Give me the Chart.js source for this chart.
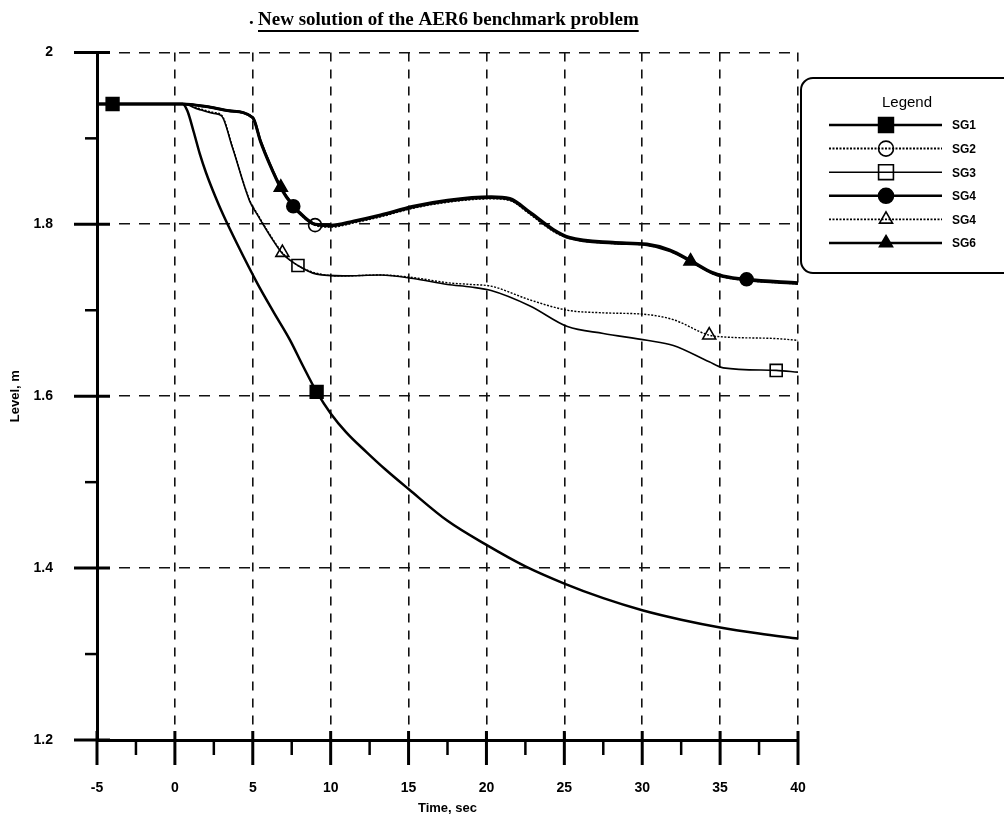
<!DOCTYPE html>
<html>
<head>
<meta charset="utf-8">
<title>New solution of the AER6 benchmark problem</title>
<script src="https://cdn.jsdelivr.net/npm/chart.js@4.4.1/dist/chart.umd.min.js"></script>
<style>
  html, body { margin: 0; padding: 0; background: #fff; }
  #wrap { width: 1004px; height: 824px; }
</style>
</head>
<body>
<div id="wrap"><canvas id="myChart" width="1004" height="824"></canvas></div>
<script>
// series names as printed in the legend (the fifth one really says SG4)
const seriesNames = ["SG1", "SG2", "SG3", "SG4", "SG4", "SG6"];

// SG1 - fastest drop
const timeSg1 = [-5, 0.5, 0.8, 1.2, 1.6, 2.0, 2.6, 3.1, 4.0, 5.3, 6.3, 7.4, 8.2, 9.1, 10.0, 11.0, 12.3, 13.5,
  15, 17.5, 20, 22.5, 25, 27.5, 30, 32.5, 35, 37.5, 40];
const sg1 = [1.94, 1.94, 1.932, 1.908, 1.882, 1.860, 1.832, 1.811, 1.777, 1.731, 1.699, 1.665, 1.636, 1.605, 1.580, 1.558, 1.535, 1.515,
  1.492, 1.455, 1.427, 1.402, 1.382, 1.365, 1.351, 1.340, 1.331, 1.324, 1.318];

// SG2, SG4, SG6 - upper group
const timeUpper = [-5, 0.5, 2, 3.5, 5, 5.5, 6.1, 6.8, 7.6, 8.3, 9, 10, 11.5, 13.2, 15.3, 17.5,
  20.3, 21.5, 22.8, 24.3, 25.3, 28.1, 30.3, 31.8, 33.1, 34.5, 35.2, 36.7, 40];
const sg2 = [1.94, 1.94, 1.937, 1.932, 1.924, 1.897, 1.870, 1.843, 1.821, 1.808, 1.799, 1.797, 1.802, 1.809, 1.819, 1.826,
  1.830, 1.828, 1.812, 1.792, 1.784, 1.778, 1.776, 1.769, 1.757, 1.743, 1.739, 1.735, 1.731];
const sg4 = [1.94, 1.94, 1.937, 1.932, 1.924, 1.896, 1.869, 1.842, 1.821, 1.808, 1.800, 1.799, 1.804, 1.811, 1.821, 1.828,
  1.832, 1.830, 1.814, 1.794, 1.785, 1.779, 1.777, 1.770, 1.758, 1.744, 1.740, 1.736, 1.732];
const sg6 = [1.94, 1.94, 1.937, 1.932, 1.924, 1.897, 1.870, 1.843, 1.822, 1.809, 1.800, 1.798, 1.803, 1.810, 1.820, 1.827,
  1.831, 1.829, 1.813, 1.793, 1.784, 1.778, 1.776, 1.769, 1.757, 1.743, 1.739, 1.735, 1.731];

// SG3 and the second "SG4" (open triangles) - middle group
const timeLower = [-5, 0.5, 1.5, 2.5, 3.0, 3.7, 4.8, 5.3, 6.1, 6.9, 7.9, 9.1, 10.8, 13.2, 15.3, 17.5,
  19, 20.3, 22.8, 25.2, 27.5, 30.3, 32, 34.3, 35.2, 38.6, 40];
const sg3 = [1.94, 1.94, 1.934, 1.929, 1.926, 1.889, 1.827, 1.811, 1.787, 1.766, 1.752, 1.742, 1.740, 1.741, 1.737, 1.730,
  1.727, 1.723, 1.705, 1.681, 1.673, 1.665, 1.659, 1.640, 1.633, 1.630, 1.628];
const sg5 = [1.94, 1.94, 1.935, 1.930, 1.927, 1.890, 1.828, 1.812, 1.788, 1.767, 1.752, 1.743, 1.740, 1.741, 1.738, 1.732,
  1.730, 1.728, 1.712, 1.700, 1.697, 1.695, 1.689, 1.671, 1.669, 1.667, 1.665];

// symbol positions on the curves
const markSg1T = [-4, 9.1], markSg1V = [1.94, 1.605];
const markSg2T = [9.0], markSg2V = [1.799];
const markSg3T = [7.9, 38.6], markSg3V = [1.752, 1.630];
const markSg4T = [7.6, 36.7], markSg4V = [1.821, 1.736];
const markSg5T = [6.9, 34.3], markSg5V = [1.767, 1.671];
const markSg6T = [6.8, 33.1], markSg6V = [1.843, 1.757];

const xMin = -5, xMax = 40, xMajor = 5, xMinor = 2.5;
const yMin = 1.2, yMax = 2.0, yMajor = 0.2, yMinor = 0.1;

function pts(ts, vs) { return ts.map((t, i) => ({ x: t, y: vs[i] })); }
function onStep(v, step) { return Math.abs(v / step - Math.round(v / step)) < 1e-6; }

const styles = [
  { width: 2.5, dash: [], shape: "rect", fill: "#000", r: 9 },
  { width: 2, dash: [2, 1.5], shape: "circle", fill: "rgba(0,0,0,0)", r: 6.5 },
  { width: 1.6, dash: [], shape: "rect", fill: "rgba(0,0,0,0)", r: 8.5 },
  { width: 3, dash: [], shape: "circle", fill: "#000", r: 6.5 },
  { width: 1.4, dash: [2, 1.5], shape: "triangle", fill: "rgba(0,0,0,0)", r: 7.5 },
  { width: 2.6, dash: [], shape: "triangle", fill: "#000", r: 7.5 }
];

const curves = [
  pts(timeSg1, sg1), pts(timeUpper, sg2), pts(timeLower, sg3),
  pts(timeUpper, sg4), pts(timeLower, sg5), pts(timeUpper, sg6)
];
const marks = [
  pts(markSg1T, markSg1V), pts(markSg2T, markSg2V), pts(markSg3T, markSg3V),
  pts(markSg4T, markSg4V), pts(markSg5T, markSg5V), pts(markSg6T, markSg6V)
];

const datasets = [];
curves.forEach((c, i) => {
  datasets.push({
    label: seriesNames[i],
    data: c,
    borderColor: "#000",
    borderWidth: styles[i].width,
    borderDash: styles[i].dash,
    pointRadius: 0,
    cubicInterpolationMode: "monotone",
    fill: false
  });
});
marks.forEach((m, i) => {
  datasets.push({
    label: seriesNames[i] + " marks",
    data: m,
    showLine: false,
    pointStyle: styles[i].shape,
    pointRadius: styles[i].r,
    pointBackgroundColor: styles[i].fill,
    pointBorderColor: "#000",
    pointBorderWidth: 1.6
  });
});

function drawShape(ctx, shape, fill, r, x, y) {
  ctx.save();
  ctx.setLineDash([]);
  ctx.lineWidth = 1.6;
  ctx.strokeStyle = "#000";
  ctx.fillStyle = fill;
  ctx.beginPath();
  if (shape === "rect") {
    const s = r * Math.SQRT1_2;
    ctx.rect(x - s, y - s, 2 * s, 2 * s);
  } else if (shape === "circle") {
    ctx.arc(x, y, r, 0, Math.PI * 2);
  } else {
    const h = r * 1.5;
    ctx.moveTo(x, y - h * 2 / 3);
    ctx.lineTo(x + r * 0.87, y + h / 3);
    ctx.lineTo(x - r * 0.87, y + h / 3);
    ctx.closePath();
  }
  ctx.fill();
  ctx.stroke();
  ctx.restore();
}

// title, tick marks crossing the axes, and the boxed legend
const decorations = {
  id: "decorations",
  afterDraw(chart) {
    const { ctx, chartArea, scales } = chart;
    const x = scales.x, y = scales.y;
    ctx.save();
    ctx.strokeStyle = "#000";
    ctx.setLineDash([]);

    x.ticks.forEach(t => {
      const px = x.getPixelForValue(t.value);
      const major = onStep(t.value, xMajor);
      ctx.lineWidth = major ? 3 : 2.5;
      ctx.beginPath();
      ctx.moveTo(px, chartArea.bottom - (major ? 9 : 0));
      ctx.lineTo(px, chartArea.bottom + (major ? 25 : 15));
      ctx.stroke();
    });
    y.ticks.forEach(t => {
      const py = y.getPixelForValue(t.value);
      const major = onStep(t.value, yMajor);
      ctx.lineWidth = major ? 3 : 2.5;
      ctx.beginPath();
      ctx.moveTo(chartArea.left - (major ? 23 : 12), py);
      ctx.lineTo(chartArea.left + (major ? 13 : 0), py);
      ctx.stroke();
    });

    // title
    ctx.fillStyle = "#000";
    ctx.font = 'bold 19px "Liberation Serif", "Times New Roman", serif';
    ctx.textBaseline = "alphabetic";
    ctx.textAlign = "left";
    const title = "New solution of the AER6 benchmark problem";
    const tx = 258, ty = 25;
    ctx.fillText(".", 249, ty - 1);
    ctx.fillText(title, tx, ty);
    const tw = ctx.measureText(title).width;
    ctx.lineWidth = 2;
    ctx.beginPath();
    ctx.moveTo(tx, ty + 6);
    ctx.lineTo(tx + tw, ty + 6);
    ctx.stroke();

    // legend box
    const bx = 801, by = 78, bw = 230, bh = 195, rad = 12;
    ctx.lineWidth = 2;
    ctx.beginPath();
    ctx.moveTo(bx + rad, by);
    ctx.lineTo(bx + bw, by);
    ctx.lineTo(bx + bw, by + bh);
    ctx.lineTo(bx + rad, by + bh);
    ctx.arcTo(bx, by + bh, bx, by + bh - rad, rad);
    ctx.lineTo(bx, by + rad);
    ctx.arcTo(bx, by, bx + rad, by, rad);
    ctx.stroke();

    ctx.font = '15px "Liberation Sans", Arial, sans-serif';
    ctx.textAlign = "center";
    ctx.textBaseline = "middle";
    ctx.fillText("Legend", 907, 103);

    ctx.font = 'bold 12px "Liberation Sans", Arial, sans-serif';
    ctx.textAlign = "left";
    seriesNames.forEach((name, i) => {
      const ly = 125 + i * 23.6;
      const st = styles[i];
      ctx.lineWidth = Math.min(Math.max(st.width, 1.6), 2.5);
      ctx.setLineDash(st.dash);
      ctx.beginPath();
      ctx.moveTo(829, ly);
      ctx.lineTo(942, ly);
      ctx.stroke();
      ctx.setLineDash([]);
      drawShape(ctx, st.shape, st.fill, st.shape === "rect" ? 10.5 : 7.5, 886, ly);
      ctx.fillText(name, 952, ly + 1);
    });
    ctx.restore();
  }
};

const tickFont = { family: '"Liberation Sans", Arial, sans-serif', size: 14, weight: "bold" };
const titleFont = { family: '"Liberation Sans", Arial, sans-serif', size: 13, weight: "bold" };

new Chart(document.getElementById("myChart").getContext("2d"), {
  type: "line",
  data: { datasets: datasets },
  plugins: [decorations],
  options: {
    responsive: false,
    animation: false,
    devicePixelRatio: 1,
    layout: { padding: { top: 48, right: 206, bottom: 0, left: 0 } },
    plugins: { legend: { display: false }, tooltip: { enabled: false }, title: { display: false } },
    scales: {
      x: {
        type: "linear",
        min: xMin,
        max: xMax,
        afterFit: s => { s.height = 84; },
        ticks: {
          stepSize: xMinor,
          padding: 40,
          color: "#000",
          font: tickFont,
          maxRotation: 0,
          autoSkip: false,
          callback: v => (onStep(v, xMajor) ? String(Math.round(v)) : "")
        },
        grid: {
          drawTicks: false,
          lineWidth: 1.6,
          color: c => (c.tick && onStep(c.tick.value, xMajor) && c.tick.value > xMin ? "#111" : "rgba(0,0,0,0)")
        },
        border: { display: true, color: "#000", width: 3, dash: [9, 8] },
        title: { display: true, text: "Time, sec", color: "#000", font: titleFont, padding: { top: 0, bottom: 8 } }
      },
      y: {
        min: yMin,
        max: yMax,
        afterFit: s => { s.width = 97; },
        ticks: {
          stepSize: yMinor,
          padding: 44,
          color: "#000",
          font: tickFont,
          autoSkip: false,
          callback: v => (onStep(v, yMajor) ? (onStep(v, 1) ? String(Math.round(v)) : v.toFixed(1)) : "")
        },
        grid: {
          drawTicks: false,
          lineWidth: 1.6,
          color: c => (c.tick && onStep(c.tick.value, yMajor) && c.tick.value > yMin + 1e-6 ? "#111" : "rgba(0,0,0,0)")
        },
        border: { display: true, color: "#000", width: 3, dash: [11, 9] },
        title: { display: true, text: "Level, m", color: "#000", font: titleFont, padding: { top: 8, bottom: 0 } }
      }
    }
  }
});
</script>
</body>
</html>
